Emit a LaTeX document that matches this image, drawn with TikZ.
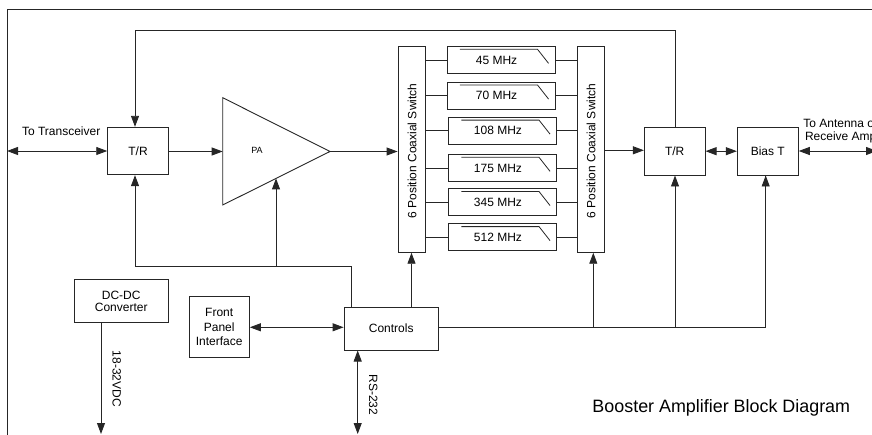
\documentclass[tikz,border=0pt]{standalone}
\usepackage{fontspec}
\setmainfont{Liberation Sans}
\usetikzlibrary{arrows.meta}
\tikzset{
  ln/.style={line width=0.9pt, draw=black!85},
  tip/.tip={Triangle[length=11pt,width=8pt]},
  arr/.style={ln, -tip},
  darr/.style={ln, tip-tip},
  blk/.style={draw=black!85, line width=0.9pt, rectangle, inner sep=0pt, align=center, font=\fontsize{12}{14}\selectfont},
  filt/.style={draw=black!85, line width=0.9pt, rectangle, inner sep=0pt, minimum width=108pt, minimum height=27pt, font=\fontsize{12}{14}\selectfont},
  txt/.style={inner sep=0pt, align=center, font=\fontsize{12}{14}\selectfont},
}
\begin{document}
\begin{tikzpicture}[x=1pt,y=-1pt]
\useasboundingbox (0,0) rectangle (872,435);
\clip (0,0) rectangle (872,435);
% frame
\draw[ln] (7,445) -- (7,9) -- (885,9);

% blocks
\node[blk, minimum width=60.6pt, minimum height=47.4pt] (tr1) at (138,151) {T/R};
\node[blk, minimum width=60.7pt, minimum height=47.7pt] (tr2) at (674.7,151.2) {T/R};
\node[blk, minimum width=61pt, minimum height=47.7pt] (bias) at (767.8,151.2) {Bias T};
\node[blk, minimum width=27pt, minimum height=205.6pt] (sw1) at (411.5,149.5) {};
\node[txt, rotate=90] (sw1t) at (412,151) {6 Position Coaxial Switch};
\node[blk, minimum width=26.7pt, minimum height=205.6pt] (sw2) at (590.7,149.5) {};
\node[txt, rotate=90] (sw2t) at (591.2,151) {6 Position Coaxial Switch};
\node[blk, minimum width=94.3pt, minimum height=42.7pt] (ctl) at (391.2,328.7) {Controls};
\node[blk, minimum width=94.3pt, minimum height=42.7pt] (dc) at (121.2,301.3) {DC-DC\\[-1.5pt]Converter};
\node[blk, minimum width=60.3pt, minimum height=60.6pt, font=\fontsize{12}{14.5}\selectfont] (fp) at (219.2,327) {Front\\Panel\\Interface};

% PA triangle
\coordinate (pat) at (222.7,97.7);
\coordinate (pab) at (222.7,205);
\coordinate (pao) at (330,151.5);
\coordinate (pai) at (222.7,151.5);
\coordinate (pain) at (276,178.4);
\draw[ln, line join=miter] (pat) -- (pao) -- (pab) -- cycle;
\node[txt, font=\fontsize{9}{10}\selectfont] (pa) at (257,150) {PA};

% filters
\foreach \n/\x/\y/\t in {f1/501/60/45 MHz, f2/501/95.7/70 MHz, f3/502.5/130.8/108 MHz, f4/502.5/168/175 MHz, f5/502.5/202.2/345 MHz, f6/502.5/237.3/512 MHz}{
  \node[filt] (\n) at (\x,\y) {\t\hspace*{9pt}};
  \draw[ln, line width=0.8pt] (\n.north west) ++(13.3,3.3) -- ++(77.7,0) -- ++(11,14);
  \draw[ln] (sw1.east |- \n.west) -- (\n.west);
  \draw[ln] (\n.east) -- (sw2.west |- \n.east);
}

% labels
\node[txt] (ltr) at (61.2,131.5) {To Transceiver};
\node[txt, font=\fontsize{12}{13.7}\selectfont] (lant) at (840.7,131) {To Antenna or\\Receive Amp};
\node[txt, rotate=-90] (lvdc) at (116.7,379) {18-32VDC};
\node[txt, rotate=-90] (lrs) at (373.3,395) {RS-232};
\node[inner sep=0pt, font=\fontsize{17.9}{20}\selectfont] (cap) at (721.3,408.3) {Booster Amplifier Block Diagram};

% free ends and routing points
\coordinate (lend) at (7,151);
\coordinate (rend) at (877,151);
\coordinate (fbx) at (135,30);
\coordinate (cjoin) at (135,266);
\coordinate (vdcend) at (101,434);
\coordinate (rsend) at (357.7,434);
\coordinate (bus) at (765.7,327.3);

% signal path
\draw[darr] (lend) -- (tr1.west |- lend);
\draw[arr] (tr1.east |- pai) -- (pai);
\draw[arr] (pao) -- (sw1.west |- pao);
\draw[arr] (sw2.east |- 0,150.3) -- (tr2.west |- 0,150.3);
\draw[darr] (tr2.east) -- (bias.west);
\draw[darr] (rend) -- (bias.east |- rend);

% top feedback
\draw[arr] (tr2.north -| 675,0) |- (fbx) -- (tr1.north -| fbx);

% controls to T/R1 and PA
\draw[arr] (ctl.north -| 351.7,0) |- (cjoin) -- (tr1.south -| cjoin);
\draw[arr] (276,266) -- (pain);
\draw[arr] (ctl.north -| sw1.south) -- (sw1.south);

% controls bus to the right
\draw[ln] (ctl.east |- bus) -- (bus) -- (bias.south -| bus);
\draw[arr] (593.3,327.3) -- (sw2.south -| 593.3,0);
\draw[arr] (675,327.3) -- (tr2.south -| 675,0);
\draw[arr] (bus) -- (bias.south -| bus);

% front panel and external
\draw[darr] (fp.east |- 0,327.3) -- (ctl.west |- 0,327.3);
\draw[arr] (dc.south -| vdcend) -- (vdcend);
\draw[darr] (ctl.south -| rsend) -- (rsend);
\end{tikzpicture}
\end{document}
